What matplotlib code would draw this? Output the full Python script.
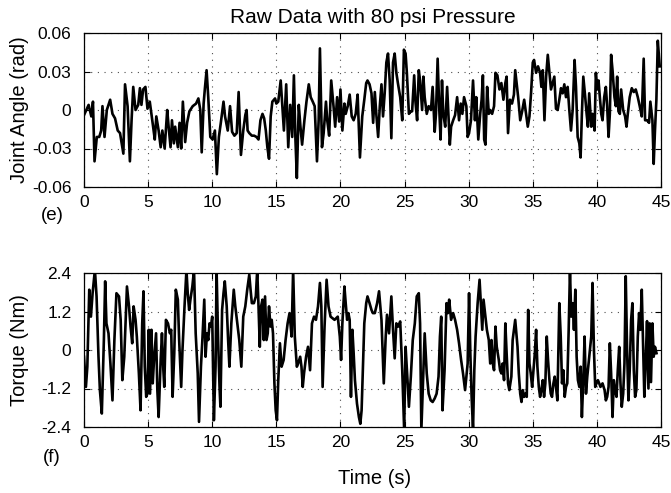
import matplotlib
matplotlib.use("Agg")
import matplotlib.pyplot as plt

plt.rcParams['font.family'] = ['Liberation Sans', 'DejaVu Sans']

# --- dane ---
time_angle = [
    0.0, 0.36, 0.57, 0.70, 0.82, 1.0, 1.19, 1.34, 1.44, 1.60,
    1.78, 2.04, 2.22, 2.42, 2.63, 2.81, 2.94, 3.07, 3.20, 3.40,
    3.58, 3.71, 3.84, 4.02, 4.23, 4.36, 4.48, 4.61, 4.79, 4.95,
    5.13, 5.26, 5.39, 5.52, 5.64, 5.82, 5.98, 6.11, 6.29, 6.49,
    6.60, 6.75, 6.86, 7.01, 7.11, 7.32, 7.45, 7.58, 7.71, 7.89,
    8.04, 8.22, 8.48, 8.74, 8.92, 9.07, 9.18, 9.33, 9.43, 9.56,
    9.69, 9.85, 10.03, 10.21, 10.36, 10.52, 10.67, 10.88, 11.0,
    11.21, 11.39, 11.55, 11.73, 11.91, 12.06, 12.24, 12.42, 12.58, 12.68,
    12.76, 12.89, 13.09, 13.27, 13.45, 13.61, 13.76, 13.92, 14.05, 14.18,
    14.30, 14.43, 14.56, 14.69, 14.90, 15.0, 15.15, 15.34, 15.46, 15.59,
    15.77, 15.93, 16.08, 16.24, 16.37, 16.49, 16.60, 16.75, 16.88, 17.01,
    17.19, 17.35, 17.53, 17.68, 17.84, 17.99, 18.17, 18.30, 18.40, 18.56,
    18.69, 18.87, 18.97, 19.12, 19.28, 19.46, 19.59, 19.74, 19.90, 20.0,
    20.15, 20.31, 20.41, 20.57, 20.72, 20.88, 21.03, 21.19, 21.34, 21.52,
    21.70, 21.86, 22.01, 22.11, 22.27, 22.42,
    22.55, 22.68, 22.81, 22.94, 23.07, 23.20, 23.32, 23.45, 23.58, 23.71,
    23.84, 23.97, 24.10, 24.23, 24.36, 24.48, 24.66, 24.82, 24.95, 25.08,
    25.18, 25.34, 25.49, 25.59, 25.75, 25.85, 25.98, 26.11, 26.21, 26.37,
    26.47, 26.57, 26.73, 26.88, 27.06, 27.19, 27.35, 27.45, 27.58, 27.71,
    27.81, 27.92, 28.02, 28.17, 28.32, 28.43, 28.53, 28.63, 28.79, 28.94,
    29.10, 29.25, 29.38, 29.51, 29.64, 29.82, 29.92, 30.03, 30.18, 30.34,
    30.49, 30.59, 30.75, 30.90, 31.01, 31.11, 31.21, 31.31, 31.44, 31.57,
    31.68, 31.83, 31.98, 32.09, 32.24, 32.40, 32.55, 32.71, 32.86, 32.96,
    33.07, 33.22, 33.38, 33.53, 33.63,
    33.86, 34.02, 34.17, 34.33, 34.48, 34.61, 34.74, 34.87, 35.0, 35.10,
    35.26, 35.41, 35.57, 35.67, 35.78, 35.91, 36.04, 36.17, 36.30, 36.42,
    36.55, 36.68, 36.81, 36.94, 37.07, 37.20, 37.33, 37.46, 37.59, 37.72,
    37.85, 37.98, 38.11, 38.26, 38.37, 38.50, 38.63, 38.73, 38.83, 38.94,
    39.09, 39.20, 39.30, 39.40, 39.56, 39.66, 39.82, 39.92, 40.03, 40.13,
    40.23, 40.34, 40.44, 40.57, 40.70, 40.80, 40.91, 41.01, 41.11, 41.22,
    41.37, 41.48, 41.58, 41.68, 41.79, 41.89, 42.05, 42.20, 42.31, 42.41,
    42.56, 42.72, 42.88, 43.03, 43.19, 43.34, 43.50, 43.65, 43.76, 43.91,
    44.07, 44.17, 44.33, 44.43, 44.53, 44.64, 44.75, 44.9,
]
angle = [
    -0.004, 0.004, -0.005, 0.0065, -0.04, -0.021, -0.021, -0.016, 0.003, -0.021,
    0.0, 0.008, -0.003, -0.0065, -0.016, -0.018, -0.026, -0.034, 0.02, 0.003,
    -0.04, -0.008, 0.018, 0.0, 0.004, 0.017, 0.004, 0.016, 0.018, 0.001,
    0.0065, -0.003, -0.013, -0.023, -0.005, -0.016, -0.029, -0.016, -0.03, 0.0,
    -0.013, -0.029, -0.008, -0.026, -0.013, -0.029, -0.01, -0.03, 0.0065, -0.025,
    -0.01, -0.001, 0.003, 0.005, 0.009, 0.0, -0.033, 0.005, 0.017, 0.031,
    0.010, -0.021, -0.023, -0.016, -0.05, -0.021, -0.01, 0.0065, -0.005,
    -0.016, 0.003, -0.017, -0.02, -0.018, 0.014, -0.035, -0.016, -0.004, 0.0,
    -0.016, -0.018, -0.02, -0.02, -0.021, -0.023, -0.008, -0.003, -0.0065, -0.016,
    -0.029, -0.038, -0.005, 0.0065, 0.009, 0.005, 0.0065, 0.023, 0.004, -0.016,
    0.02, -0.029, 0.004, -0.021, 0.027, -0.023, -0.053, 0.004, -0.013, -0.027,
    -0.008, 0.0065, 0.02, 0.010, 0.0065, 0.003, -0.04, -0.008, 0.048, -0.029,
    -0.018, 0.0065, -0.008, -0.02, 0.023, 0.003, -0.013, 0.010, -0.009, 0.016,
    -0.016, 0.005, -0.003, 0.003, 0.012, -0.005, -0.008, -0.003, 0.012, -0.037,
    -0.005, 0.008, 0.021, 0.023, 0.02, 0.013,
    -0.01, 0.014, -0.005, -0.021, 0.003, 0.02, -0.005, 0.013, 0.037, 0.044,
    0.023, -0.022, 0.037, 0.044, 0.029, 0.021, 0.010, -0.008, 0.047, 0.044,
    0.029, -0.003, -0.001, -0.001, 0.027, 0.0065, -0.008, 0.031, 0.023, 0.0,
    0.026, 0.010, -0.003, 0.003, 0.0, 0.018, -0.017, -0.003, 0.040, 0.0,
    -0.023, 0.023, -0.003, -0.013, 0.018, -0.005, -0.027, -0.013, -0.008, -0.004,
    0.010, -0.008, 0.005, -0.003, 0.010, 0.003, -0.021, -0.018, -0.008, 0.023,
    -0.008, 0.010, -0.023, -0.003, 0.008, 0.027, -0.023, -0.027, 0.018, -0.003,
    0.0, -0.003, 0.003, 0.029, 0.027, 0.016, 0.021, 0.008, 0.021, 0.026,
    -0.018, 0.008, 0.005, 0.012, 0.031,
    0.010, -0.008, -0.001, 0.008, -0.003, -0.013, -0.005, 0.014, 0.037, 0.039,
    0.029, 0.034, 0.029, 0.018, 0.031, -0.008, 0.026, 0.043, 0.029, 0.016,
    0.021, 0.026, 0.001, 0.0, 0.008, 0.017, 0.013, 0.02, 0.010, 0.018,
    0.0, -0.016, 0.0, 0.039, 0.018, -0.021, -0.026, -0.037, -0.003, 0.026,
    0.010, -0.003, -0.013, 0.013, -0.013, -0.003, -0.016, 0.029, 0.016, 0.023,
    0.010, -0.003, -0.008, 0.010, 0.018, 0.003, -0.021, -0.003, 0.043, 0.031,
    0.010, 0.003, 0.026, -0.001, -0.003, 0.016, 0.0, -0.005, -0.013, -0.003,
    0.010, 0.017, 0.014, 0.016, 0.010, 0.003, -0.005, 0.040, -0.008, -0.008,
    -0.01, 0.0065, -0.008, -0.042, -0.016, 0.008, 0.054, 0.034,
]

time_torque = [
    0.0, 0.15, 0.26, 0.41, 0.54, 0.67, 0.85, 0.98, 1.13, 1.24,
    1.39, 1.55, 1.65, 1.75, 1.91, 2.06, 2.22, 2.37, 2.53, 2.73,
    2.86, 2.99, 3.14, 3.35, 3.51, 3.63, 3.76, 3.87, 4.02, 4.12,
    4.28, 4.41, 4.54, 4.64, 4.74, 4.85, 4.95, 5.05, 5.15, 5.26,
    5.36, 5.46, 5.62, 5.72, 5.82, 5.98, 6.08, 6.19, 6.26, 6.39,
    6.55, 6.70, 6.80, 6.91, 7.04, 7.16, 7.32, 7.42, 7.58, 7.68,
    7.84, 7.99, 8.09, 8.20, 8.30, 8.45, 8.58, 8.71, 8.87, 8.97,
    9.12, 9.23, 9.38, 9.48, 9.59, 9.69, 9.79, 9.90, 10.0, 10.13,
    10.26, 10.34, 10.46, 10.57, 10.64, 10.77, 10.88, 10.98, 11.13, 11.24,
    11.34, 11.49, 11.68, 11.80, 11.96, 12.11, 12.27, 12.42, 12.58, 12.73,
    12.89, 12.99, 13.09, 13.25, 13.40, 13.51, 13.61, 13.71, 13.81, 13.92,
    14.02, 14.12, 14.23, 14.33, 14.43, 14.54, 14.64, 14.74, 14.85, 14.95,
    15.05, 15.15, 15.28, 15.41, 15.57, 15.72, 15.88, 16.03, 16.19, 16.31,
    16.44, 16.60, 16.70, 16.86, 16.96, 17.06, 17.16, 17.32, 17.47, 17.63,
    17.78, 17.94, 18.09, 18.25, 18.40, 18.51, 18.61, 18.76, 18.92, 19.07,
    19.23, 19.54,
    19.79, 19.95, 20.05, 20.15, 20.31, 20.41, 20.52, 20.62, 20.72, 20.82,
    20.93, 21.03, 21.13, 21.29, 21.44, 21.55, 21.65, 21.75, 21.86, 22.01,
    22.11, 22.27, 22.42, 22.53,
    22.68, 22.86, 23.01, 23.20, 23.38, 23.53, 23.63, 23.79, 23.97, 24.10,
    24.23, 24.36, 24.51, 24.66, 24.82, 24.97, 25.08, 25.23, 25.34, 25.49,
    25.64, 25.80, 25.95, 26.11, 26.21, 26.31, 26.47, 26.57, 26.73, 26.88,
    27.04, 27.19, 27.35, 27.50, 27.65, 27.76, 27.86, 27.96, 28.12, 28.27,
    28.38, 28.48, 28.63, 28.79, 28.94, 29.10, 29.25, 29.41, 29.56, 29.72,
    29.82, 29.92, 30.03, 30.13, 30.23, 30.34, 30.44, 30.54, 30.70, 30.85,
    30.95, 31.06, 31.16, 31.31, 31.42, 31.57, 31.68, 31.78, 31.88, 31.98,
    32.09, 32.19, 32.35, 32.45, 32.55, 32.65, 32.76, 32.86, 32.96, 33.07,
    33.17, 33.33, 33.43, 33.53, 33.63,
    33.81, 33.91, 34.02, 34.12, 34.22, 34.33, 34.43, 34.53, 34.64, 34.74,
    34.84, 34.95, 35.05, 35.16, 35.26, 35.36, 35.47, 35.57, 35.67, 35.78,
    35.88, 35.98, 36.09, 36.19, 36.30, 36.40, 36.50, 36.61, 36.71, 36.81,
    36.92, 37.07, 37.18, 37.28, 37.38, 37.49, 37.59, 37.69, 37.80, 37.90,
    38.0, 38.11, 38.21, 38.32, 38.42, 38.52, 38.63, 38.73, 38.83, 38.94,
    39.04, 39.15, 39.25, 39.40, 39.56, 39.66, 39.77, 39.87, 39.97, 40.08,
    40.18, 40.28, 40.44, 40.60, 40.70, 40.80, 40.91, 41.01, 41.11, 41.22,
    41.32, 41.42, 41.53, 41.63, 41.74, 41.84, 41.94, 42.05, 42.15, 42.25,
    42.36, 42.46, 42.56, 42.67, 42.77, 42.88, 42.98, 43.08, 43.19, 43.29,
    43.39, 43.50, 43.60, 43.70, 43.81, 43.91, 44.02, 44.12, 44.22, 44.33,
    44.43, 44.53, 44.65,
]
torque = [
    -0.21, -1.15, -0.52, 1.88, 1.04, 1.77, 2.5, 1.67, -0.21, -1.25,
    -1.98, 0.31, 2.14, 0.83, 0.52, -0.42, -1.57, 0.31, 1.77, 1.67,
    0.94, -0.94, -0.21, 1.98, 1.36, 0.73, 0.21, 1.36, 0.94, 0.42,
    -0.73, -1.88, 0.83, 1.83, -0.52, -1.46, -1.36, 0.63, -1.36, 0.63,
    -1.04, -0.31, 0.52, -1.25, -2.09, -0.31, 0.52, -0.63, -1.15, 0.94,
    0.83, 0.52, 0.63, -1.46, -0.10, 1.88, 1.57, 0.31, -1.15, 0.0,
    1.36, 2.5, 1.77, 1.25, 1.57, 1.98, 2.5, 0.52, -0.73, -2.24,
    -0.52, 0.31, 1.57, -0.21, 0.52, 0.31, 0.83, 0.73, 1.04, -2.19,
    -0.52, 2.5, 0.31, -1.15, -1.77, 1.25, 1.77, 2.14, 1.36, 0.31,
    -0.52, 0.83, 1.88, 1.36, 0.83, 0.31, -0.52, 1.04, 1.36, 1.88,
    2.35, 1.88, 1.46, 1.46, 1.67, 2.5, 1.36, 0.10, 1.36, 1.57,
    0.31, 1.67, 0.31, 0.52, 1.36, 0.73, 0.94, 0.52, -1.04, -1.88,
    -2.19, -0.94, 0.21, -0.52, -0.31, 0.31, 0.83, 1.15, 0.42, 2.5,
    0.42, -0.52, -0.42, -0.21, -0.52, -1.15, -0.73, -0.21, 0.10, -0.63,
    0.83, 1.04, 0.94, 1.36, 2.09, 1.36, -1.15, 0.73, 2.19, 1.36,
    1.04, 0.94,
    1.04, 0.42, -0.31, 0.83, 1.98, 1.46, 0.94, 1.15, 0.94, -1.46,
    0.63, -0.10, -0.94, -1.67, -2.09, -2.30, -1.88, -0.63, 0.83, 1.46,
    1.67, 1.46, 1.25, 1.15,
    1.15, 1.46, 1.83, 0.94, -1.04, 0.42, 1.10, 0.52, 1.67, 0.63,
    -0.26, 0.83, 0.73, 0.89, -0.63, -2.5, 0.10, -0.94, -1.77, -0.83,
    0.31, 0.83, 1.67, 1.77, 0.83, -2.5, -0.63, 0.52, -0.73, -1.36,
    -1.57, -1.62, -1.51, -1.36, -0.83, 0.42, 1.04, -1.88, -0.63, 1.46,
    1.15, 1.57, 0.94, 1.15, 0.94, 0.63, 0.21, -0.31, -0.73, -1.25,
    -0.83, -0.42, 1.77, -0.10, -1.46, -2.5, -0.63, 0.42, 1.46, 2.19,
    1.46, 0.63, 1.57, 1.04, 0.63, 0.31, -0.42, 0.31, -0.42, -0.63,
    0.73, 0.10, -0.31, -0.63, -0.73, -0.42, -0.94, 0.83, -0.10, -1.04,
    -1.25, -0.83, 0.31, 0.63, 0.94,
    0.10, -0.73, -1.36, -1.62, -1.25, -1.46, -1.36, -1.46, 1.25, -0.42,
    -0.73, -1.15, -0.63, -0.10, 0.63, -0.52, -1.15, -1.46, -1.25, -0.94,
    -1.46, -1.04, 0.42, -0.31, -0.94, -1.36, -1.46, -1.04, -0.83, -1.15,
    -1.57, 1.46, 0.42, -1.04, -0.63, -1.46, -1.15, -1.04, 0.63, 2.5,
    1.04, 1.46, 0.63, 1.88, -0.21, -0.94, -1.15, -0.52, -2.09, -0.94,
    0.42, -1.36, -0.83, -0.21, 0.42, 2.09, 0.0, -1.15, -1.04, -0.94,
    -1.04, -1.15, -1.04, -1.25, -1.57, -1.46, -1.15, 0.21, -0.73, -2.09,
    -0.94, -1.25, -1.46, -0.63, 0.10, -1.04, -1.77, -1.36, -0.42, 2.30,
    -0.10, -1.57, -0.63, 0.94, 1.46, -0.63, -1.46, -1.25, 0.42, 1.15,
    0.63, 1.88, 0.20, -1.46, -0.30, 0.90, -1.20, 0.83, -1.00, 0.83,
    -0.21, 0.10, -0.10,
]

x_ticks = [0, 5, 10, 15, 20, 25, 30, 35, 40, 45]
angle_ticks = [-0.06, -0.03, 0, 0.03, 0.06]
angle_labels = ['-0.06', '-0.03', '0', '0.03', '0.06']
torque_ticks = [-2.4, -1.2, 0, 1.2, 2.4]
torque_labels = ['-2.4', '-1.2', '0', '1.2', '2.4']

W, H = 671, 493
fig = plt.figure(figsize=(W / 100, H / 100), dpi=100)
ax1 = fig.add_axes([84 / W, 1 - 187 / H, 577 / W, 154 / H])
ax2 = fig.add_axes([84 / W, 1 - 427 / H, 577 / W, 154 / H])

ax1.plot(time_angle, angle, color='black', linewidth=1.9)
ax2.plot(time_torque, torque, color='black', linewidth=1.9)

ax1.set_ylim(-0.06, 0.06)
ax1.set_yticks(angle_ticks)
ax1.set_yticklabels(angle_labels)
ax2.set_ylim(-2.4, 2.4)
ax2.set_yticks(torque_ticks)
ax2.set_yticklabels(torque_labels)

for ax in (ax1, ax2):
    ax.set_xlim(0, 45)
    ax.set_xticks(x_ticks)
    ax.grid(True, linestyle=(0, (1, 5)), color='0.3', linewidth=0.8)
    ax.tick_params(direction='in', length=4, width=0.8, top=True, right=True,
                   labelsize=12.5, colors='black')
    ax.tick_params(axis='y', pad=9)
    ax.tick_params(axis='x', pad=6)
    for s in ax.spines.values():
        s.set_linewidth(0.9)

ax1.set_title('Raw Data with 80 psi Pressure', fontsize=15, pad=7)
fig.text(20 / W, 1 - 110 / H, 'Joint Angle (rad)', rotation=90,
         ha='center', va='center', fontsize=14.5)
fig.text(20 / W, 1 - 350 / H, 'Torque (Nm)', rotation=90,
         ha='center', va='center', fontsize=14.5)
fig.text(52 / W, 1 - 215 / H, '(e)', ha='center', va='center', fontsize=13.5)
fig.text(52 / W, 1 - 457 / H, '(f)', ha='center', va='center', fontsize=13.5)
fig.text(375 / W, 1 - 478 / H, 'Time (s)', ha='center', va='center', fontsize=14.5)

fig.savefig('out.png', dpi=100)
